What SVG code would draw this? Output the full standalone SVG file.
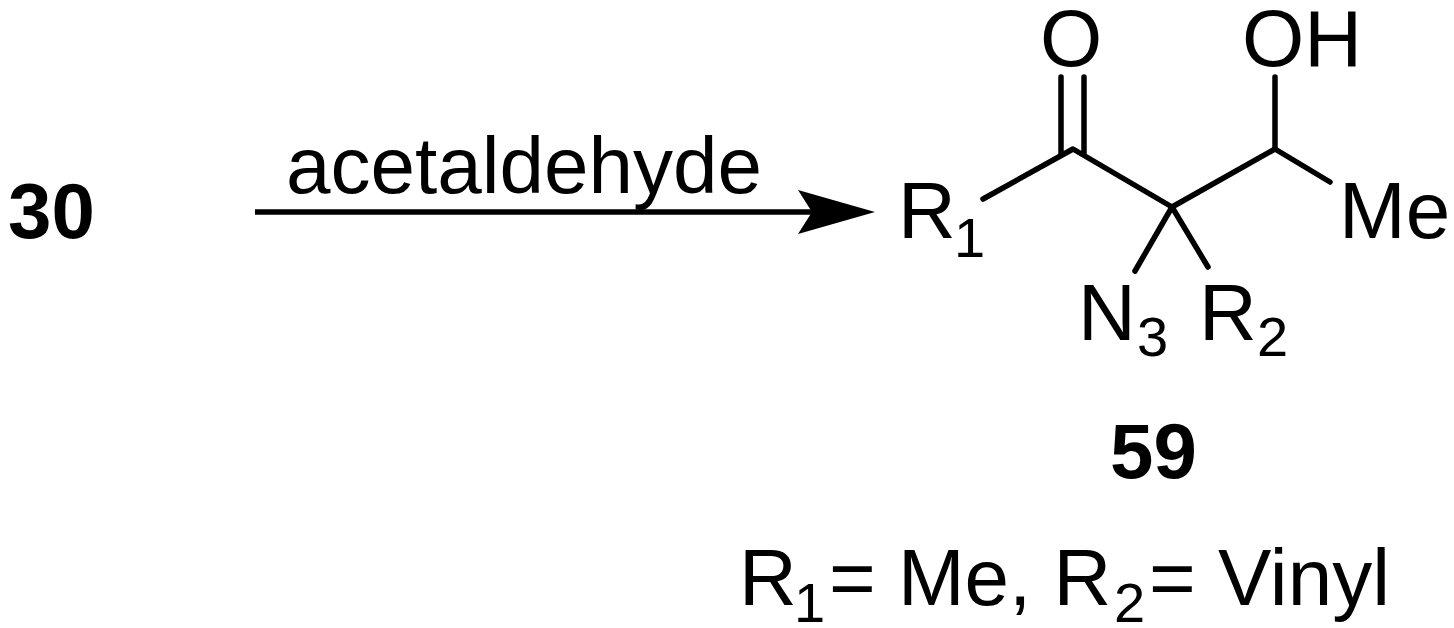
<svg xmlns="http://www.w3.org/2000/svg" width="1454" height="628" viewBox="0 0 1454 628">
<style>
text{font-family:"Liberation Sans",Arial,sans-serif;font-size:80px;fill:#000}
.b{font-weight:bold;font-size:78px}
.s{font-size:56px}
.l{stroke:#000;stroke-width:5.5;fill:none;stroke-linecap:round;stroke-linejoin:round}
</style>
<rect width="1454" height="628" fill="#fff"/>
<g id="connectors">
<path d="M255 212H812" stroke="#000" stroke-width="5.5" fill="none"/>
<path d="M875 212L798 190L812 212L798 234Z" fill="#000"/>
<path class="l" d="M983 199L1073 149L1172 207L1275 149L1330 182"/>
<path class="l" d="M1061 77V153M1084 77V153"/>
<path class="l" d="M1275 77V149"/>
<path class="l" d="M1172 207L1135 271M1172 207L1208 267"/>
</g>
<g id="n30"><text class="b" x="8" y="238">30</text></g>
<g id="reagent"><text x="286" y="193">acetaldehyde</text></g>
<g id="R1"><text x="898" y="238">R</text><text class="s" x="954" y="257">1</text></g>
<g id="O"><text x="1040" y="66">O</text></g>
<g id="OH"><text x="1242" y="66">OH</text></g>
<g id="Me"><text x="1339" y="238">Me</text></g>
<g id="N3"><text x="1078" y="340">N</text><text class="s" x="1137" y="356">3</text></g>
<g id="R2"><text x="1199" y="340">R</text><text class="s" x="1257" y="356">2</text></g>
<g id="n59"><text class="b" x="1110" y="478">59</text></g>
<g id="legend"><text x="739" y="605">R</text><text class="s" x="794" y="622">1</text><text x="829" y="605">= Me, R</text><text class="s" x="1114" y="622">2</text><text x="1149" y="605">= Vinyl</text></g>
</svg>
